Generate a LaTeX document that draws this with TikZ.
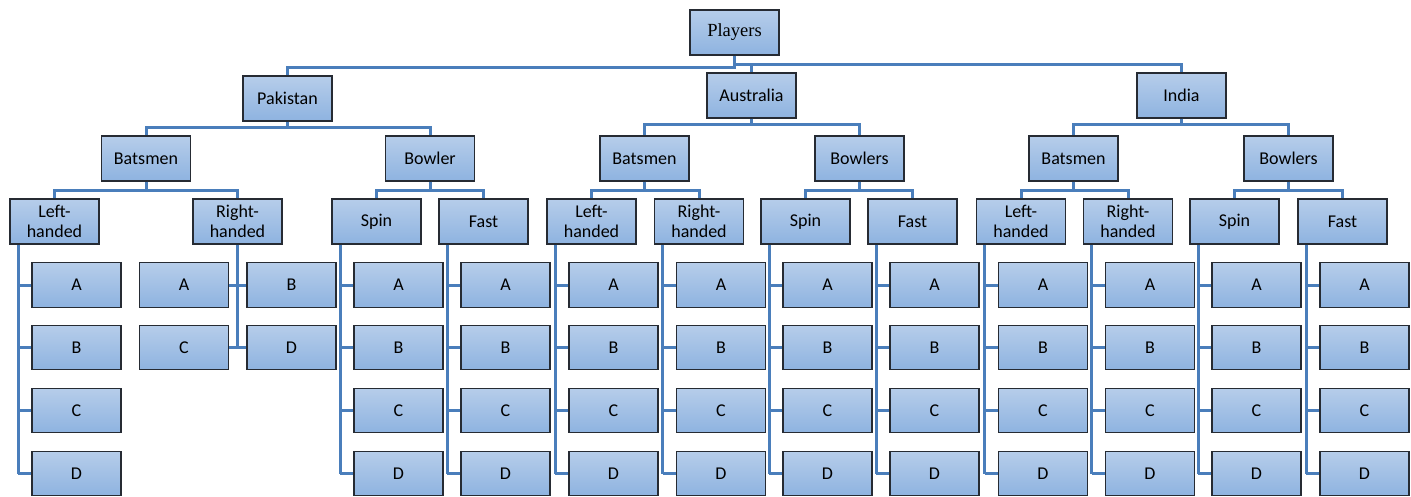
\documentclass[tikz,border=0pt]{standalone}
\usepackage{fontspec}
\setmainfont{Carlito}
\newfontfamily\playersfont{Liberation Serif}
\begin{document}
\definecolor{boxtop}{HTML}{B6CDEA}
\definecolor{boxbot}{HTML}{8EB3E0}
\definecolor{boxline}{HTML}{262B33}
\definecolor{linkblue}{HTML}{4A7EBB}
\begin{tikzpicture}[x=1pt,y=-1pt,
  box/.style={rectangle, draw=boxline, line width=1.4pt, top color=boxtop, bottom color=boxbot,
    minimum width=89pt, minimum height=45pt, inner sep=1pt, align=center,
    font=\fontsize{18}{20}\selectfont, text=black},
  leaf/.style={box, minimum height=44.5pt},
  conn/.style={draw=linkblue, line width=3pt}]
\useasboundingbox (0,0) rectangle (1411,496);
\clip (0,0) rectangle (1411,496);

% root
\node[box, font=\fontsize{18.5}{20}\playersfont] (players) at (734.5,32.5) {Players};

% countries
\node[box] (pak) at (287.5,98.5) {Pakistan};
\node[box] (aus) at (751.5,95.5) {Australia};
\node[box] (ind) at (1181.5,95.5) {India};

% batsmen / bowlers
\node[box] (pbat) at (146,158.5) {Batsmen};
\node[box] (pbow) at (430,158.5) {Bowler};
\node[box] (abat) at (644.5,158.5) {Batsmen};
\node[box] (abow) at (859.5,158.5) {Bowlers};
\node[box] (ibat) at (1073.5,158.5) {Batsmen};
\node[box] (ibow) at (1288.5,158.5) {Bowlers};

% kinds of player
\foreach \g/\px/\t in {plh/54.5/Left-\\handed, prh/237.5/Right-\\handed, psp/376.5/Spin, pfa/483.5/Fast,
                       alh/591.5/Left-\\handed, arh/699/Right-\\handed, asp/805.5/Spin, afa/912.5/Fast,
                       ilh/1021/Left-\\handed, irh/1128/Right-\\handed, isp/1234.5/Spin, ifa/1342.5/Fast}
  \node[box] (\g) at (\px,221.5) {\t};

% tree links between the upper levels
\draw[conn] (players.south) -- ++(0,12) -| (pak.north);
\draw[conn] ([yshift=-8.5pt]players.south) -| (ind.north);
\draw[conn] (aus.north) -- ++(0,-9.5);
\foreach \a/\b/\c in {pak/pbat/pbow, aus/abat/abow, ind/ibat/ibow}{
  \draw[conn] (\a.south) -- ++(0,6) -| (\b.north);
  \draw[conn] (\a.south) -- ++(0,6) -| (\c.north);
}
\foreach \a/\b/\c in {pbat/plh/prh, pbow/psp/pfa, abat/alh/arh, abow/asp/afa, ibat/ilh/irh, ibow/isp/ifa}{
  \draw[conn] (\a.south) -- ++(0,9) -| (\b.north);
  \draw[conn] (\a.south) -- ++(0,9) -| (\c.north);
}

% columns of A-D with a side rail
\foreach \g/\px in {plh/54.5, psp/376.5, pfa/483.5, alh/591.5, arh/699, asp/805.5, afa/912.5,
                    ilh/1021, irh/1128, isp/1234.5, ifa/1342.5}{
  \foreach \l/\y in {A/285, B/347.5, C/410.5, D/473.5}{
    \node[leaf] (\g\l) at (\px+22,\y) {\l};
    \draw[conn] ([xshift=-13pt]\g\l.west) -- (\g\l.west);
  }
  \draw[conn] ([xshift=9pt]\g.south west) |- ([xshift=-13pt]\g D.west);
}

% Pakistan right-handed: two by two around the rail
\node[leaf] (prhA) at (184,285) {A};
\node[leaf] (prhB) at (291.5,285) {B};
\node[leaf] (prhC) at (184,347.5) {C};
\node[leaf] (prhD) at (291.5,347.5) {D};
\draw[conn] (prh.south) -- (prh.south |- prhC.east);
\draw[conn] (prhA.east) -- (prhB.west);
\draw[conn] (prhC.east) -- (prhD.west);
\end{tikzpicture}
\end{document}
